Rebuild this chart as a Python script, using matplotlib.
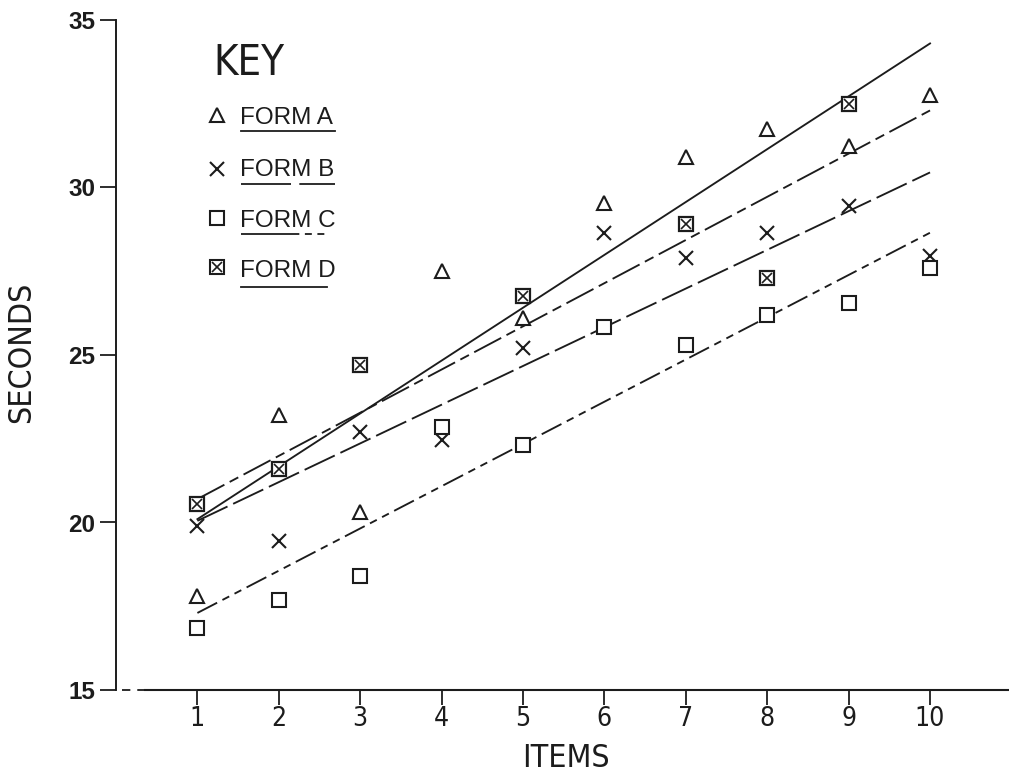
import matplotlib
matplotlib.use('Agg')
import matplotlib.pyplot as plt
from matplotlib import font_manager as fm
from matplotlib.lines import Line2D

# ---------------- data ----------------
items = [1, 2, 3, 4, 5, 6, 7, 8, 9, 10]
form_a = [17.8, 23.2, 20.3, 27.5, 26.1, 29.55, 30.9, 31.75, 31.25, 32.75]
form_b = [19.9, 19.45, 22.7, 22.45, 25.2, 28.65, 27.9, 28.65, 29.45, 27.95]
form_c = [16.85, 17.7, 18.4, 22.85, 22.3, 25.85, 25.3, 26.2, 26.55, 27.6]
items_d = [1, 2, 3, 5, 7, 8, 9]
form_d = [20.55, 21.6, 24.7, 26.75, 28.9, 27.3, 32.5]

fit_x = [1, 10]
fit_a = [20.1, 34.3]
fit_b = [20.05, 30.45]
fit_c = [17.3, 28.65]
fit_d = [20.7, 32.3]

y_ticks = [15, 20, 25, 30, 35]
x_ticks = items
legend_labels = ['FORM A', 'FORM B', 'FORM C', 'FORM D']

# ---------------- style ----------------
plt.rcParams['lines.scale_dashes'] = False
INK = '#1c1c1c'
names = {f.name for f in fm.fontManager.ttflist}
if 'Liberation Sans Narrow' in names:
    NARROW = dict(family='Liberation Sans Narrow')
else:
    NARROW = dict(family='DejaVu Sans', stretch='condensed')
REG = dict(family='Liberation Sans' if 'Liberation Sans' in names else 'DejaVu Sans')

W, H = 1009, 776
fig = plt.figure(figsize=(W / 100, H / 100), dpi=100)
fig.patch.set_facecolor('white')
ax = fig.add_axes([116 / W, 86 / H, (W - 116) / W, 670 / H])
ax.set_xlim(0, 10.97)
ax.set_ylim(15, 35)
ax.set_facecolor('white')

for s in ['top', 'right', 'bottom']:
    ax.spines[s].set_visible(False)
ax.spines['left'].set_color(INK)
ax.spines['left'].set_linewidth(1.4)

# bottom axis: short dashes near the origin then solid
ax.plot([0.07, 0.36], [15, 15], color=INK, lw=1.3, dashes=(6, 5),
        clip_on=False, solid_capstyle='butt')
ax.plot([0.36, 10.97], [15, 15], color=INK, lw=1.5, clip_on=False)

ax.set_xticks(x_ticks)
ax.set_xticklabels([str(v) for v in x_ticks], fontsize=19, color=INK, **NARROW)
ax.set_yticks(y_ticks)
ax.set_yticklabels([str(v) for v in y_ticks], fontsize=17.5, fontweight='bold',
                   color=INK, **REG)
ax.tick_params(axis='x', direction='out', length=10.5, width=1.3, color=INK, pad=1)
ax.tick_params(axis='y', direction='out', length=11.5, width=1.3, color=INK, pad=3.5)

# ---------------- fitted lines ----------------
dash_b = (24, 4.5)
dash_c = (16, 4.3, 5.5, 4.3, 5.5, 4.3)
dash_d = (22, 4.3, 7, 4.3)
LW = 1.35
ax.plot(fit_x, fit_a, color=INK, lw=LW)
ax.plot(fit_x, fit_b, color=INK, lw=LW, dashes=dash_b)
ax.plot(fit_x, fit_c, color=INK, lw=LW, dashes=dash_c)
ax.plot(fit_x, fit_d, color=INK, lw=LW, dashes=dash_d)

# ---------------- points ----------------
MS = 10
MEW = 1.5
ax.plot(items, form_a, ls='none', marker='^', ms=MS, mfc='white', mec=INK, mew=MEW)
ax.plot(items, form_b, ls='none', marker='x', ms=MS, mec=INK, mew=MEW)
ax.plot(items, form_c, ls='none', marker='s', ms=MS, mfc='white', mec=INK, mew=MEW)
ax.plot(items_d, form_d, ls='none', marker='s', ms=MS, mfc='white', mec=INK, mew=MEW + 0.1)
ax.plot(items_d, form_d, ls='none', marker='x', ms=MS * 0.72, mec=INK, mew=1.2)

# ---------------- key ----------------
def fx(px):
    return px / W

def fy(py):
    return 1 - py / H

fig.text(fx(249), fy(75), 'KEY', fontsize=30, color=INK, ha='center', va='baseline', **NARROW)

markers = ['^', 'x', 's', 's']
baselines = [124, 176, 227, 277]
marker_y = [115, 169, 218, 267]
underline_y = [131, 184, 234, 287]
dashes_list = [None, (36, 6), (42, 4, 5, 4, 5, 30), None]
for i, lab in enumerate(legend_labels):
    m = markers[i]
    fig.add_artist(Line2D([fx(217)], [fy(marker_y[i])], ls='none', marker=m, ms=MS,
                          mfc='white', mec=INK, mew=MEW, transform=fig.transFigure))
    if i == 3:
        fig.add_artist(Line2D([fx(217)], [fy(marker_y[i])], ls='none', marker='x',
                              ms=MS * 0.72, mec=INK, mew=1.2, transform=fig.transFigure))
    fig.text(fx(240), fy(baselines[i]), lab, fontsize=17.5, color=INK,
             ha='left', va='baseline', **REG)
    x_end = 335 if i < 3 else 327
    ln = Line2D([fx(241), fx(x_end)], [fy(underline_y[i])] * 2, color=INK, lw=1.3,
                transform=fig.transFigure)
    if dashes_list[i] is not None:
        ln.set_dashes(dashes_list[i])
    fig.add_artist(ln)

# ---------------- axis titles ----------------
fig.text(fx(566), fy(767), 'ITEMS', fontsize=23, color=INK, ha='center', va='baseline', **NARROW)
fig.text(fx(22), fy(352), 'SECONDS', fontsize=23, color=INK, ha='center', va='center',
         rotation=90, **NARROW)

fig.savefig('out.png', dpi=100, facecolor='white')
